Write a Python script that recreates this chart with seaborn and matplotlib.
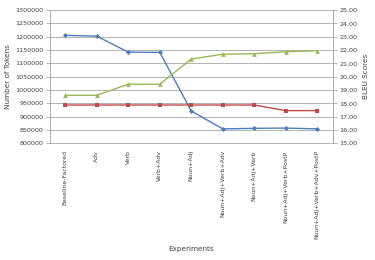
import matplotlib
matplotlib.use("Agg")
import matplotlib.pyplot as plt
import seaborn as sns
import numpy as np
import pandas as pd
from matplotlib.ticker import FuncFormatter, MultipleLocator, FixedLocator

categories = ["Baseline-Factored", "Adv", "Verb", "Verb+Adv", "Noun+Adj",
              "Noun+Adj+Verb+Adv", "Noun+Adj+Verb", "Noun+Adj+Verb+PostP",
              "Noun+Adj+Verb+Adv+PostP"]
tokens = [1205000, 1202000, 1142000, 1141000, 921000, 854000, 856000, 857000, 854000]
bleu_red = [17.87, 17.87, 17.87, 17.87, 17.87, 17.87, 17.87, 17.45, 17.45]
bleu_green = [18.60, 18.60, 19.43, 19.43, 21.32, 21.68, 21.72, 21.87, 21.95]

BLUE = "#4A7EBB"
RED = "#BE4B48"
GREEN = "#98B954"
GRID = "#A6A6A6"
TXT = "#404040"

sns.set_style("white")
plt.rcParams["font.family"] = ["DejaVu Sans"]

df = pd.DataFrame({"pos": np.arange(len(categories)), "cat": categories,
                   "tokens": tokens, "red": bleu_red, "green": bleu_green})

fig = plt.figure(figsize=(3.75, 2.6), dpi=100)
ax = fig.add_axes([0.132, 0.449, 0.756, 0.5125])
ax2 = ax.twinx()

sns.lineplot(data=df, x="pos", y="tokens", ax=ax, color=BLUE, marker="D",
             markersize=2.6, markeredgewidth=0, linewidth=1.0, zorder=5)
sns.lineplot(data=df, x="pos", y="red", ax=ax2, color=RED, marker="s",
             markersize=3.4, markeredgewidth=0, linewidth=1.0)
sns.lineplot(data=df, x="pos", y="green", ax=ax2, color=GREEN, marker="^",
             markersize=3.4, markeredgewidth=0, linewidth=1.0)

ax.set_ylim(800000, 1300000)
ax.yaxis.set_major_locator(MultipleLocator(50000))
ax2.set_ylim(15, 25)
ax2.yaxis.set_major_locator(MultipleLocator(1))
ax2.yaxis.set_major_formatter(FuncFormatter(lambda v, p: f"{v:.2f}".replace(".", ",")))
ax.yaxis.set_major_formatter(FuncFormatter(lambda v, p: f"{int(v)}"))

ax.set_xlim(-0.5, len(categories) - 0.5)
ax.set_xticks(df["pos"])
ax.set_xticklabels(categories, rotation=90, fontsize=4.4, color=TXT)
ax.xaxis.set_minor_locator(FixedLocator(np.arange(-0.5, len(categories), 1.0)))
ax.tick_params(axis="x", which="major", length=0, pad=5)
ax.tick_params(axis="x", which="minor", length=3, width=0.6, color=GRID, direction="out")
ax.tick_params(axis="y", length=3, width=0.6, color=GRID, labelsize=4.6,
               labelcolor=TXT, pad=1.5, direction="out", left=True)
ax2.tick_params(axis="y", length=3, width=0.6, color=GRID, labelsize=4.6,
                labelcolor=TXT, pad=1.5, direction="out", right=True)

ax.grid(True, axis="y", color=GRID, linewidth=0.6)
ax.set_axisbelow(True)
for a in (ax, ax2):
    a.spines["top"].set_visible(False)
    a.spines["left"].set_color(GRID)
    a.spines["right"].set_color(GRID)
    a.spines["bottom"].set_color(GRID)
    for s in a.spines.values():
        s.set_linewidth(0.6)
ax2.spines["left"].set_visible(False)
ax2.spines["bottom"].set_visible(False)
ax2.grid(False)

ax.set_xlabel("Experiments", fontsize=5.2, color=TXT, labelpad=5)
ax.set_ylabel("Number of Tokens", fontsize=5.2, color=TXT, labelpad=3)
ax2.set_ylabel("BLEU Scores", fontsize=5.2, color=TXT, labelpad=4)

fig.savefig("out.png", dpi=100, facecolor="white")
